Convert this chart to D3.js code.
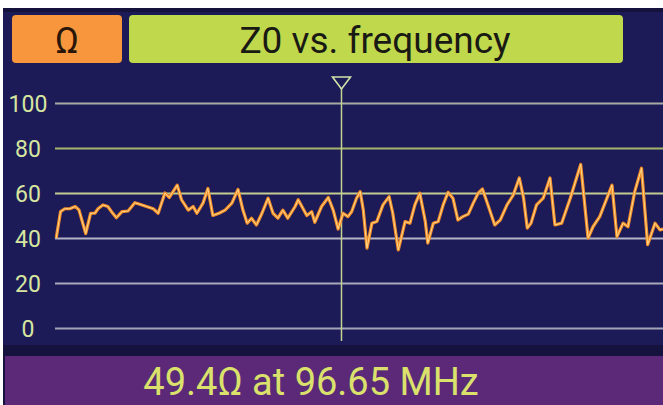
<!DOCTYPE html>
<html><head><meta charset="utf-8">
<script src="https://cdn.jsdelivr.net/npm/d3@7/dist/d3.min.js"></script>
<style>html,body{margin:0;padding:0;background:#fff;}svg{display:block;}</style>
</head><body>
<script>
// ---- data ----
const freqMHz = [50.2,50.9,51.6,52.4,53.3,53.9,55.0,55.8,56.5,57.0,57.8,58.6,59.2,60.0,60.9,61.9,63.0,63.8,64.9,66.0,66.8,67.9,68.6,69.2,69.9,70.6,71.7,72.5,73.1,74.1,74.9,75.7,76.7,77.7,78.8,79.8,80.6,81.3,82.0,82.8,83.7,84.7,85.5,86.3,87.1,87.9,89.1,89.6,90.4,91.0,91.8,92.3,93.4,94.5,95.3,96.1,96.9,97.7,98.3,99.1,99.7,100.2,100.8,101.6,102.4,103.4,104.4,105.0,105.9,107.0,107.8,108.6,109.4,110.3,110.7,111.6,112.4,113.2,114.0,114.8,115.6,116.4,117.3,118.1,118.9,119.6,120.5,121.6,122.5,123.6,124.6,125.6,126.3,126.9,127.5,128.4,129.5,130.6,131.4,132.5,133.9,135.6,136.8,137.6,138.7,140.7,141.5,142.5,143.3,144.4,145.5,146.5,147.7,148.5,149.0];
const z0Ohm = [40,51.7,53,53,54,52.5,42,51,51,53,54.7,54,51.7,49,51.7,52,55.7,55,54,53,51,60,58,60.5,63.5,57,52.4,54,51,55.5,62,50,51,52.4,55.5,61.6,52.4,46.6,48.8,45.8,51,57.7,51,48.8,52.4,48.8,54,57,53,50,51.7,47,54,58,52.4,44,51,49.5,51.7,57.7,60.6,52.4,35.5,46.6,47.3,54.7,58.4,51,34.7,47.3,46.6,54.7,59.9,47.3,37.7,46.6,47.3,54.7,60.3,57.7,48,49.5,50.6,55.5,59.9,61.8,54.7,45.8,48,54.7,59,66.7,57.7,44.4,46.5,54.7,57.7,66.7,45.8,46.6,57.7,72.7,40,45,49.5,63.5,40.6,46.6,45,60.6,71,37,46.6,43.6,44];
const yTicks = [0,20,40,60,80,100];
const yTickLabels = ["0","20","40","60","80","100"];
const markerFreq = 96.65;
const markerValue = 49.4;
const unitLabel = "Ω";
const titleLabel = "Z0 vs. frequency";
const readoutLabel = markerValue.toFixed(1) + "Ω at " + markerFreq.toFixed(2) + " MHz";

// ---- drawing ----
const W = 663, H = 405;
const svg = d3.select("body").append("svg").attr("width", W).attr("height", H);
const font = "Roboto, 'Liberation Sans', sans-serif";

// panels
svg.append("rect").attr("x",0).attr("y",0).attr("width",W).attr("height",H).attr("fill","#ffffff");
svg.append("rect").attr("x",3).attr("y",8).attr("width",W-3).attr("height",H-8).attr("fill","#15123e");
svg.append("rect").attr("x",3).attr("y",12).attr("width",W-3).attr("height",333).attr("fill","#1d1a58");
svg.append("rect").attr("x",5).attr("y",356).attr("width",W-5).attr("height",H-356).attr("fill","#5b2978");

// header
svg.append("rect").attr("x",12).attr("y",15).attr("width",110).attr("height",48).attr("rx",4).attr("fill","#f7963c");
svg.append("text").attr("x",67).attr("y",53).attr("text-anchor","middle").attr("font-family",font)
  .attr("font-size",36).attr("fill","#2a1608").text(unitLabel);
svg.append("rect").attr("x",129).attr("y",15).attr("width",494).attr("height",48).attr("rx",4).attr("fill","#c0d84c");
svg.append("text").attr("x",375).attr("y",53).attr("text-anchor","middle").attr("font-family",font)
  .attr("font-size",37).attr("fill","#1a1a14").text(titleLabel);

// scales
const x = d3.scaleLinear().domain([50,149]).range([55,663]);
const y = d3.scaleLinear().domain([0,100]).range([328,103]);

// gridlines
const gridColors = {0:"#a4a4b8",20:"#a8a8b8",40:"#b4b4c4",60:"#c4cc90",80:"#a6b46a",100:"#a8aca0"};
const grid = svg.append("g").attr("transform",`translate(${x.range()[0]},0)`)
  .call(d3.axisRight(y).tickValues(yTicks).tickSize(x.range()[1]-x.range()[0]).tickFormat(""));
grid.select(".domain").remove();
grid.selectAll(".tick line").attr("stroke",d=>gridColors[d]).attr("stroke-width",2);

// y labels
const yAxis = svg.append("g").attr("transform","translate(28,0)")
  .call(d3.axisLeft(y).tickValues(yTicks).tickSize(0).tickPadding(0).tickFormat((d,i)=>yTickLabels[i]));
yAxis.select(".domain").remove();
yAxis.selectAll(".tick text").attr("text-anchor","middle").attr("x",0).attr("dy","0.36em")
  .attr("font-family",font).attr("font-size",23).attr("fill","#d6e6a0");

// marker
const mx = x(markerFreq);
svg.append("line").attr("x1",mx).attr("x2",mx).attr("y1",88).attr("y2",341).attr("stroke","#c4d490").attr("stroke-width",1.5);
svg.append("path").attr("d",`M${mx-9},77 L${mx+9},77 L${mx},89 Z`).attr("fill","none").attr("stroke","#d4e2a8").attr("stroke-width",1.6);

// series
const pts = freqMHz.map((f,i)=>[f,z0Ohm[i]]);
const line = d3.line().x(d=>x(d[0])).y(d=>y(d[1]));
svg.append("path").datum(pts).attr("d",line).attr("fill","none").attr("stroke","#f08c28").attr("stroke-width",3.2).attr("stroke-linejoin","round");
svg.append("path").datum(pts).attr("d",line).attr("fill","none").attr("stroke","#ffd88a").attr("stroke-width",1).attr("stroke-linejoin","round");

// readout
svg.append("text").attr("x",311).attr("y",395).attr("text-anchor","middle").attr("font-family",font)
  .attr("font-size",38).attr("fill","#dae26c").text(readoutLabel);
</script>
</body></html>
